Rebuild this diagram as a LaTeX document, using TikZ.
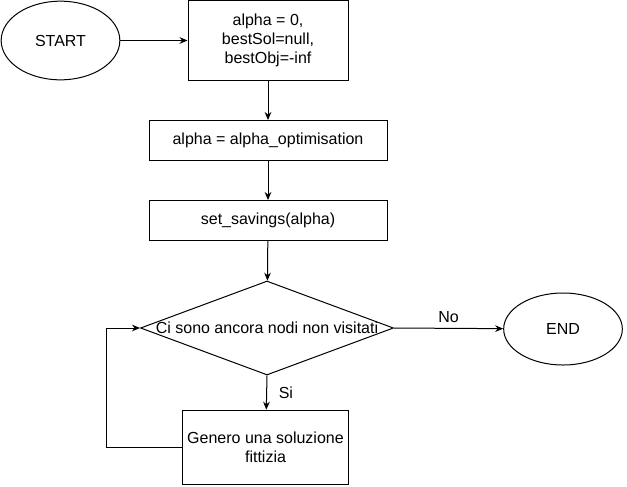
\documentclass[tikz,border=0pt]{standalone}
\usepackage{fontspec}
\setmainfont{Liberation Sans}
\usepackage{tikz}
\usetikzlibrary{shapes.geometric,arrows.meta}

\tikzset{
  flowtext/.style={font=\fontsize{12pt}{14.5pt}\selectfont, align=center, inner sep=0.75pt},
  terminal/.style={draw, ellipse, line width=0.75pt, flowtext},
  stepbox/.style={draw, rectangle, line width=0.75pt, flowtext},
  decision/.style={draw, diamond, line width=0.75pt, inner sep=0pt},
  flowarrow/.style={line width=0.75pt, -{Stealth[length=6pt,width=5pt]}},
}

\begin{document}
\begin{tikzpicture}[x=0.75pt,y=0.75pt,yscale=-1,xscale=1]
        \useasboundingbox (0,0) rectangle (627,486);

        \node [terminal, minimum width=89pt, minimum height=59pt] (start) at (60.5,40.5) {START};
        \node [stepbox, minimum width=120pt, minimum height=60pt] (init) at (268,40.5) {alpha = 0,\\bestSol=null,\\bestObj=-inf};
        \node [stepbox, minimum width=178.5pt, minimum height=30pt] (alpha) at (268,140.5) {alpha = alpha\_optimisation};
        \node [stepbox, minimum width=178.5pt, minimum height=30pt] (savings) at (268,220.5) {set\_savings(alpha)};
        \node [decision, minimum width=189.75pt, minimum height=70.5pt] (check) at (267,328) {};
        \node [flowtext] (checktext) at (check.center) {Ci sono ancora nodi non visitati};
        \node [terminal, minimum width=89pt, minimum height=54pt] (end) at (563,329) {END};
        \node [stepbox, minimum width=124pt, minimum height=56pt] (gen) at (265.5,447.5) {Genero una soluzione\\fittizia};
        \coordinate (loop) at (106.5,447.5);

        \draw [flowarrow] (start) -- (init);
        \draw [flowarrow] (init) -- (alpha);
        \draw [flowarrow] (alpha) -- (savings);
        \draw [flowarrow] (savings) -- (check);
        \draw [flowarrow] (check.east) -- node [flowtext, above=3pt] {No} (end);
        \draw [flowarrow] (check.south) -- node [flowtext, right=8pt] {Si} (gen);
        \draw [flowarrow] (gen.west) -- (loop) |- (check.west);
    \end{tikzpicture}
\end{document}
